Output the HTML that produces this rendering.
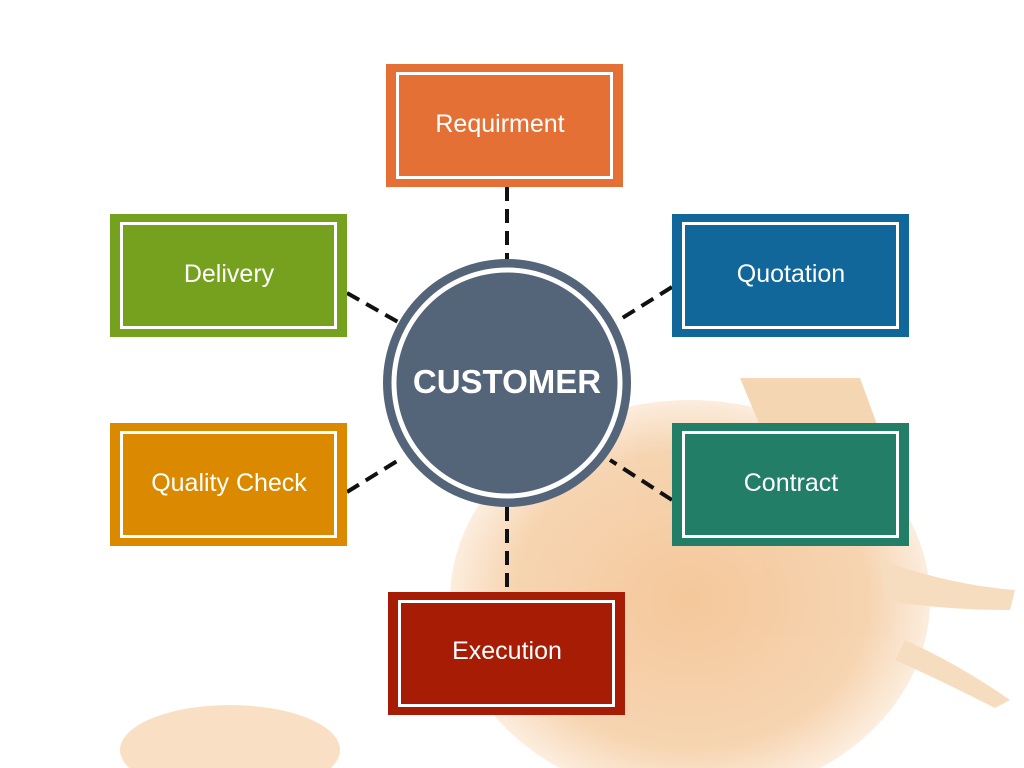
<!DOCTYPE html>
<html><head><meta charset="utf-8"><style>
html,body{margin:0;padding:0;background:#fff;}
body{width:1024px;height:768px;position:relative;overflow:hidden;font-family:"Liberation Sans",sans-serif;}
</style></head><body>
<svg width="1024" height="768" viewBox="0 0 1024 768" style="position:absolute;left:0;top:0">
<defs>
<radialGradient id="org" cx="0.5" cy="0.5" r="0.5">
<stop offset="0" stop-color="#f0b070"/><stop offset="0.75" stop-color="#f3c391"/><stop offset="1" stop-color="#fbe6d0"/>
</radialGradient>
</defs>
<g opacity="0.7">
<ellipse cx="690" cy="600" rx="240" ry="200" fill="url(#org)"/>
<path d="M740 378 L860 378 L890 460 L830 500 L770 450 Z" fill="#f2c594"/>
<path d="M880 560 Q950 585 1015 590 L1010 610 Q940 610 885 600 Z" fill="#f5cfa4"/>
<path d="M905 640 Q960 665 1010 700 L995 708 Q940 680 895 660 Z" fill="#f5cfa4"/>
<ellipse cx="230" cy="750" rx="110" ry="45" fill="#f6d3ab"/>
</g>
<g stroke="#111" stroke-width="4" stroke-dasharray="14,8" fill="none">
<line x1="507" y1="187" x2="507" y2="259"/>
<line x1="507" y1="507" x2="507" y2="592"/>
<line x1="347" y1="293" x2="398" y2="322"/>
<line x1="672" y1="287" x2="616" y2="322"/>
<line x1="347" y1="492" x2="402" y2="458"/>
<line x1="672" y1="500" x2="610" y2="460"/>
</g>
<g font-family="Liberation Sans Narrow, Liberation Sans, sans-serif" font-size="25" fill="#fff" text-anchor="middle">
<rect x="386" y="64" width="237" height="123" fill="#e57035"/>
<rect x="397.5" y="73.5" width="214" height="104" fill="none" stroke="#fff" stroke-width="3"/>
<text x="500" y="132">Requirment</text>

<rect x="110" y="214" width="237" height="123" fill="#76a11e"/>
<rect x="121.5" y="223.5" width="214" height="104" fill="none" stroke="#fff" stroke-width="3"/>
<text x="229" y="282">Delivery</text>

<rect x="672" y="214" width="237" height="123" fill="#11669a"/>
<rect x="683.5" y="223.5" width="214" height="104" fill="none" stroke="#fff" stroke-width="3"/>
<text x="791" y="282">Quotation</text>

<rect x="110" y="423" width="237" height="123" fill="#db8a00"/>
<rect x="121.5" y="432.5" width="214" height="104" fill="none" stroke="#fff" stroke-width="3"/>
<text x="229" y="491">Quality Check</text>

<rect x="672" y="423" width="237" height="123" fill="#227e66"/>
<rect x="683.5" y="432.5" width="214" height="104" fill="none" stroke="#fff" stroke-width="3"/>
<text x="791" y="491">Contract</text>

<rect x="388" y="592" width="237" height="123" fill="#a61c04"/>
<rect x="399.5" y="601.5" width="214" height="104" fill="none" stroke="#fff" stroke-width="3"/>
<text x="507" y="659">Execution</text>
</g>
<circle cx="507" cy="383" r="124" fill="#546479"/>
<circle cx="507" cy="383" r="113" fill="none" stroke="#fff" stroke-width="5"/>
<text x="507" y="393" font-family="Liberation Sans, sans-serif" font-weight="bold" font-size="33" fill="#fff" text-anchor="middle">CUSTOMER</text>
</svg>
</body></html>
